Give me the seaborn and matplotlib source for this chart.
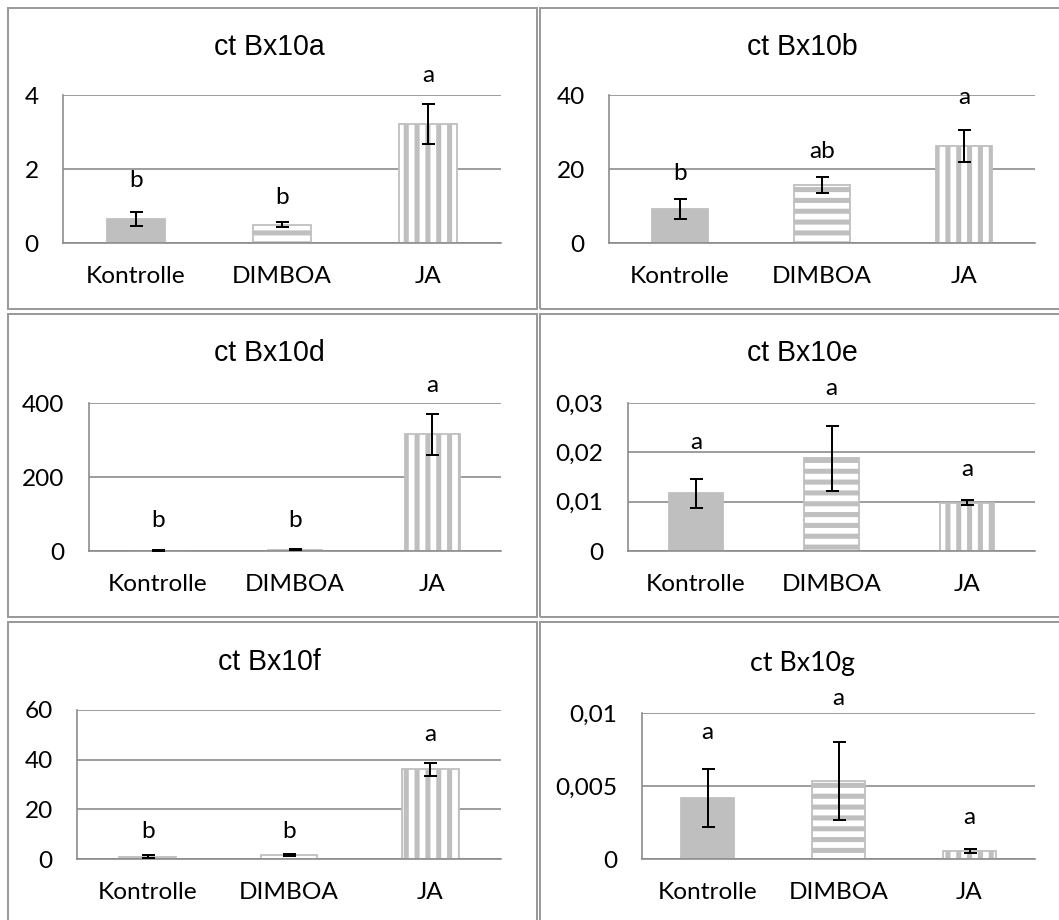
import matplotlib
matplotlib.use("Agg")
import matplotlib.pyplot as plt
import seaborn as sns
import pandas as pd
from matplotlib.patches import Rectangle

# ---- data -------------------------------------------------------------
categories = ["Kontrolle", "DIMBOA", "JA"]
titles = ["ct Bx10a", "ct Bx10b", "ct Bx10d", "ct Bx10e", "ct Bx10f", "ct Bx10g"]

means_a = [0.65, 0.50, 3.22]
err_a = [0.20, 0.08, 0.54]
letters_a = ["b", "b", "a"]
letter_y_a = [1.70, 1.22, 4.54]
ticks_a = [0, 2, 4]
tick_labels_a = ["0", "2", "4"]

means_b = [9.2, 15.7, 26.3]
err_b = [2.6, 2.1, 4.3]
letters_b = ["b", "ab", "a"]
letter_y_b = [18.9, 24.7, 39.3]
ticks_b = [0, 20, 40]
tick_labels_b = ["0", "20", "40"]

means_d = [1.2, 3.5, 315]
err_d = [0.8, 1.2, 55]
letters_d = ["b", "b", "a"]
letter_y_d = [83, 83, 446]
ticks_d = [0, 200, 400]
tick_labels_d = ["0", "200", "400"]

means_e = [0.0117, 0.0188, 0.0098]
err_e = [0.0029, 0.0066, 0.0005]
letters_e = ["a", "a", "a"]
letter_y_e = [0.0219, 0.0329, 0.0166]
ticks_e = [0, 0.01, 0.02, 0.03]
tick_labels_e = ["0", "0,01", "0,02", "0,03"]

means_f = [1.0, 1.6, 36.1]
err_f = [0.5, 0.5, 2.5]
letters_f = ["b", "b", "a"]
letter_y_f = [11, 11, 50]
ticks_f = [0, 20, 40, 60]
tick_labels_f = ["0", "20", "40", "60"]

means_g = [0.00417, 0.00535, 0.00055]
err_g = [0.0020, 0.00265, 0.00016]
letters_g = ["a", "a", "a"]
letter_y_g = [0.00867, 0.01096, 0.00286]
ticks_g = [0, 0.005, 0.01]
tick_labels_g = ["0", "0,005", "0,01"]

panels = [
    (means_a, err_a, letters_a, letter_y_a, ticks_a, tick_labels_a),
    (means_b, err_b, letters_b, letter_y_b, ticks_b, tick_labels_b),
    (means_d, err_d, letters_d, letter_y_d, ticks_d, tick_labels_d),
    (means_e, err_e, letters_e, letter_y_e, ticks_e, tick_labels_e),
    (means_f, err_f, letters_f, letter_y_f, ticks_f, tick_labels_f),
    (means_g, err_g, letters_g, letter_y_g, ticks_g, tick_labels_g),
]

# ---- layout (pixels) --------------------------------------------------
W, H, DPI = 1059, 920, 130
axes_px = [
    (63, 95, 501, 243),
    (609, 95, 1035, 243),
    (89, 403, 501, 551),
    (628, 403, 1035, 551),
    (77, 710, 501, 859),
    (642, 713, 1035, 859),
]
frames_px = [
    (8, 8, 537, 309),
    (540, 8, 1075, 309),
    (8, 314, 537, 617),
    (540, 314, 1075, 617),
    (8, 622, 537, 935),
    (540, 622, 1075, 935),
]
title_px = [(269, 47), (802, 47), (269, 353), (802, 353), (269, 662), (802, 663)]

BAR_GRAY = "#BFBFBF"
LINE_GRAY = "#8A8A8A"
FRAME_GRAY = "#9A9A9A"
TEXT_SIZE = 13.5
TITLE_SIZE = 15.8

sns.set_theme(style="white")
plt.rcParams["font.family"] = ["Lato", "DejaVu Sans"]
plt.rcParams["hatch.color"] = BAR_GRAY
plt.rcParams["hatch.linewidth"] = 2.8

fig = plt.figure(figsize=(W / DPI, H / DPI), dpi=DPI)
fig.patch.set_facecolor("white")


def fig_rect(l, t, r, b):
    return [l / W, 1 - b / H, (r - l) / W, (b - t) / H]


# chart-area frames
for (l, t, r, b) in frames_px:
    x0, y0, w, h = fig_rect(l, t, r, b)
    fig.patches.append(Rectangle((x0, y0), w, h, transform=fig.transFigure,
                                 fill=False, edgecolor=FRAME_GRAY, lw=1.1,
                                 zorder=0))

hatches = [None, "--", "||"]

for i, (means, err, letters, letter_y, ticks, tick_labels) in enumerate(panels):
    ax = fig.add_axes(fig_rect(*axes_px[i]))
    df = pd.DataFrame({"Behandlung": categories, "Wert": means})
    sns.barplot(data=df, x="Behandlung", y="Wert", ax=ax, width=0.4,
                color=BAR_GRAY, errorbar=None, edgecolor=BAR_GRAY,
                linewidth=1.0, saturation=1)
    for patch, hatch in zip(ax.patches, hatches):
        if hatch is not None:
            patch.set_facecolor("white")
            patch.set_hatch(hatch)
            patch.set_edgecolor(BAR_GRAY)
    ax.errorbar(range(len(categories)), means, yerr=err, fmt="none",
                ecolor="black", elinewidth=1.1, capsize=3.6, capthick=1.1,
                zorder=5)
    for x, (lab, ly) in enumerate(zip(letters, letter_y)):
        ax.text(x, ly, lab, ha="center", va="center", fontsize=TEXT_SIZE,
                color="black", clip_on=False)

    ax.set_ylim(ticks[0], ticks[-1])
    ax.set_yticks(ticks)
    ax.set_yticklabels(tick_labels)
    ax.set_xlim(-0.5, len(categories) - 0.5)
    ax.set_xlabel("")
    ax.set_ylabel("")
    ax.set_axisbelow(True)
    ax.yaxis.grid(True, color=LINE_GRAY, lw=0.9)
    ax.xaxis.grid(False)
    for side in ("top", "right"):
        ax.spines[side].set_visible(False)
    for side in ("left", "bottom"):
        ax.spines[side].set_visible(True)
        ax.spines[side].set_color(LINE_GRAY)
        ax.spines[side].set_linewidth(0.9)
    ax.tick_params(axis="both", length=0, labelsize=TEXT_SIZE, labelcolor="black")
    ax.tick_params(axis="y", pad=13.5)
    ax.tick_params(axis="x", pad=12.5)
    ax.set_facecolor("none")

    tx, ty = title_px[i]
    if i == 5:
        title_family, title_size = ["Lato", "DejaVu Sans"], TEXT_SIZE * 1.1
    else:
        title_family, title_size = ["Liberation Sans", "DejaVu Sans"], TITLE_SIZE
    fig.text(tx / W, 1 - ty / H, titles[i], ha="center", va="center",
             fontsize=title_size, family=title_family, color="black")

fig.savefig("out.png", dpi=DPI, facecolor="white")
